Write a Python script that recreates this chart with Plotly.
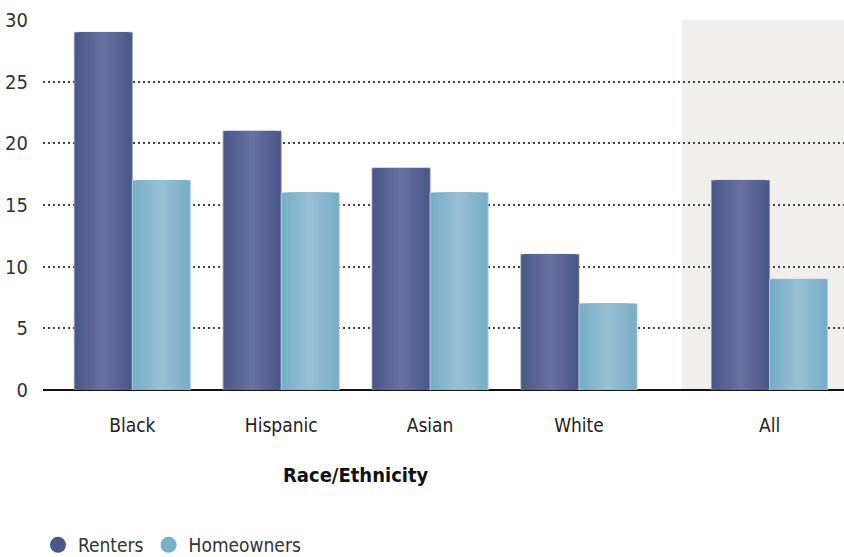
import plotly.graph_objects as go

categories = ["Black", "Hispanic", "Asian", "White", "All"]
renters = [29, 21, 18, 11, 17]
homeowners = [17, 16, 16, 7, 9]
y_ticks = [0, 5, 10, 15, 20, 25, 30]

FONT = "DejaVu Sans Condensed, sans-serif"

# category positions (extra gap before "All")
xpos = [0, 1, 2, 3, 4.28]
BW = 0.39


def mix(c1, c2, t):
    a = [int(c1[i:i + 2], 16) for i in (1, 3, 5)]
    b = [int(c2[i:i + 2], 16) for i in (1, 3, 5)]
    return "#" + "".join(f"{round(a[j] + (b[j] - a[j]) * t):02x}" for j in range(3))


fig = go.Figure()

series = [
    ("Renters", renters, -BW, "#4a5788", "#67719f", "#8c95b8"),
    ("Homeowners", homeowners, 0.0, "#78aec8", "#97bfd3", "#b3d2e1"),
]
N = 10
for name, vals, off, edge, center, outline in series:
    for k in range(N):
        frac = 1 - k / N
        w = BW * frac
        o = off + BW * (1 - frac) / 2
        col = mix(edge, center, k / (N - 1))
        fig.add_trace(go.Bar(
            x=xpos, y=vals, name=name, showlegend=False, offset=o, width=w,
            marker=dict(color=col, line=dict(color=outline if k == 0 else col, width=0.8 if k == 0 else 0)),
            hoverinfo="skip" if k else None,
        ))

# legend entries with circle markers
fig.add_trace(go.Scatter(x=[None], y=[None], mode="markers", name="Renters",
                         marker=dict(symbol="circle", size=22, color="#4a5889")))
fig.add_trace(go.Scatter(x=[None], y=[None], mode="markers", name="Homeowners",
                         marker=dict(symbol="circle", size=22, color="#78b0ca")))

# shaded "All" region
fig.add_shape(type="rect", xref="x", yref="paper", x0=3.69, x1=4.78, y0=0, y1=1,
              fillcolor="#f0efec", line=dict(width=0), layer="below")

fig.add_annotation(text="<b>Race/Ethnicity</b>", x=1.5, xref="x", y=-0.23, yref="paper",
                   showarrow=False, font=dict(size=20, color="#111", family=FONT), yanchor="middle")

fig.update_layout(
    width=844, height=557,
    margin=dict(l=43, r=0, t=20, b=167),
    plot_bgcolor="rgba(0,0,0,0)", paper_bgcolor="white",
    font=dict(family=FONT, color="#333"),
    barmode="overlay",
    legend=dict(orientation="h", x=0.045, xref="container", y=(557 - 545) / 557, yref="container",
                yanchor="middle", xanchor="left", font=dict(size=19, color="#333"),
                traceorder="normal", itemwidth=30),
    xaxis=dict(range=[-0.6, 4.78], tickvals=xpos, ticktext=categories, showgrid=False,
               zeroline=False, showline=False, ticks="", ticklabelstandoff=22,
               tickfont=dict(size=19, color="#222")),
    yaxis=dict(range=[0, 30], tickvals=y_ticks, showgrid=True, griddash="1.5px,3.5px", gridcolor="#444",
               gridwidth=1.5, zeroline=True, zerolinecolor="#111", zerolinewidth=2,
               tickfont=dict(size=20, color="#333"), ticklabelstandoff=14, showline=False, ticks=""),
)

fig.write_html("out.html")
